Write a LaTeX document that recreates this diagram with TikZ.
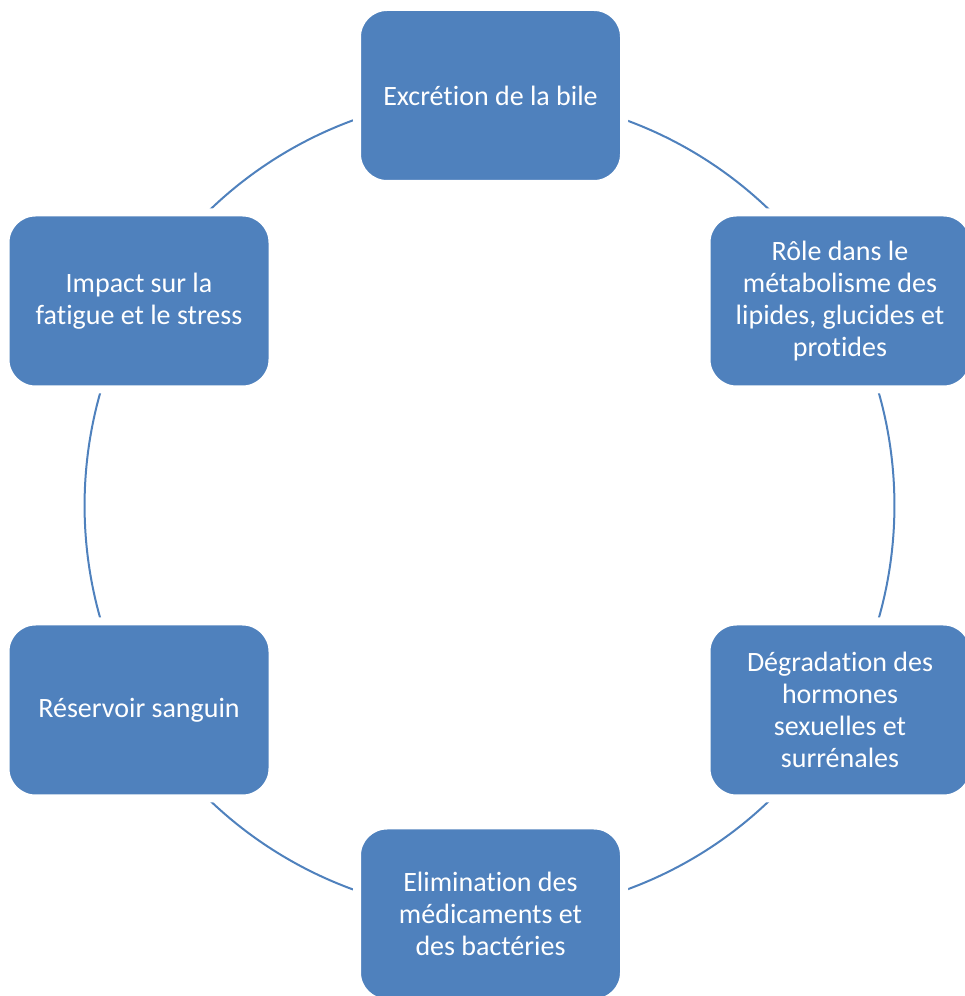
\documentclass[tikz,border=0pt]{standalone}
\usepackage{fontspec}
\setmainfont{Carlito}[Ligatures=NoCommon]
\usetikzlibrary{backgrounds}
\definecolor{boxblue}{HTML}{4F81BD}

\begin{document}
\begin{tikzpicture}[x=1pt,y=1pt]
                \useasboundingbox (0,0) rectangle (965,996);
                \begin{scope}[every node/.style={fill=boxblue, draw=white, line width=8pt, rounded corners=30pt, minimum width=267pt, minimum height=177pt, inner sep=0pt, align=center, text=white, font=\fontsize{28}{32}\selectfont}]
                        \node (bile) at (490.5,900.5) {Excrétion de la bile};
                        \node (meta) at (840,695) {Rôle dans le\\métabolisme des\\lipides, glucides et\\protides};
                        \node (hormones) at (840,286) {Dégradation des\\hormones\\sexuelles et\\surrénales};
                        \node (elim) at (490.5,82) {Elimination des\\médicaments et\\des bactéries};
                        \node (reservoir) at (139,286) {Réservoir sanguin};
                        \node (fatigue) at (139,695) {Impact sur la\\fatigue et le stress};
                \end{scope}

                \begin{scope}[on background layer, every path/.style={draw=boxblue, line width=2pt}]
                        \path (bile.center) edge [bend left=30, looseness=0.91] (meta.center);
                        \path (meta.center) edge [bend left=30, looseness=0.91] (hormones.center);
                        \path (hormones.center) edge [bend left=30, looseness=0.91] (elim.center);
                        \path (elim.center) edge [bend left=30, looseness=0.91] (reservoir.center);
                        \path (reservoir.center) edge [bend left=30, looseness=0.91] (fatigue.center);
                        \path (fatigue.center) edge [bend left=30, looseness=0.91] (bile.center);
                \end{scope}
\end{tikzpicture}
\end{document}
